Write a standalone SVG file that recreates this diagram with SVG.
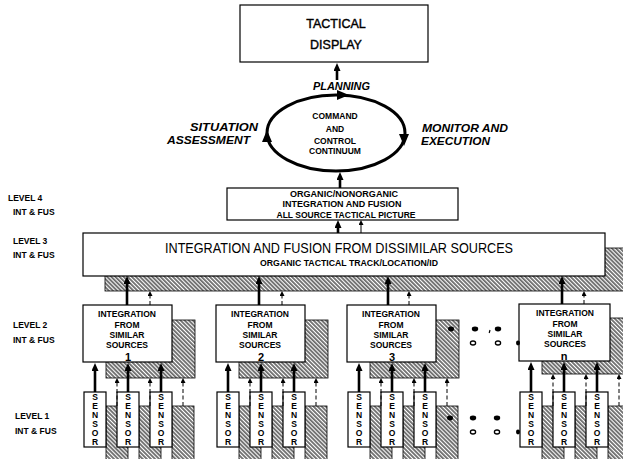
<svg xmlns="http://www.w3.org/2000/svg" width="623" height="459" viewBox="0 0 623 459">
  <defs>
    <pattern id="hatch" width="2.9" height="2.9" patternUnits="userSpaceOnUse" patternTransform="rotate(45)">
      <rect width="2.9" height="2.9" fill="#fff"/>
      <line x1="0" y1="1" x2="2.9" y2="1" stroke="#000" stroke-width="1.05"/>
    </pattern>
    <marker id="ah" markerUnits="userSpaceOnUse" markerWidth="8" markerHeight="7" viewBox="0 0 8 7" refX="3" refY="3.5" orient="auto">
      <path d="M0,0 L8,3.5 L0,7 z" fill="#000"/>
    </marker>
    <marker id="ahs" markerUnits="userSpaceOnUse" markerWidth="5" markerHeight="5" viewBox="0 0 5 5" refX="2" refY="2.5" orient="auto">
      <path d="M0,0 L5,2.5 L0,5 z" fill="#000"/>
    </marker>
  </defs>
  <style>
    text { font-family: "Liberation Sans", Arial, Helvetica, sans-serif; fill: #000; }
    .box { fill: #fff; stroke: #000; stroke-width: 1.2; }
    .shade { fill: url(#hatch); stroke: #000; stroke-width: 0.8; }
    .thick { stroke: #000; stroke-width: 2.6; fill: none; marker-end: url(#ah); }
    .thin { stroke: #000; stroke-width: 1; fill: none; stroke-dasharray: 4 2.5; marker-end: url(#ahs); }
    .thinsolid { stroke: #000; stroke-width: 1; fill: none; marker-end: url(#ahs); }
    .lvl { font-size: 8.5px; font-weight: bold; }
    .sm { font-size: 8.5px; font-weight: bold; text-anchor: middle; }
    .num { font-size: 11px; font-weight: bold; text-anchor: middle; }
    .sen { font-size: 8.5px; font-weight: bold; text-anchor: middle; }
    .it { font-size: 11px; font-weight: bold; font-style: italic; }
    .dot { fill: #000; }
    .ring { fill: none; stroke: #000; stroke-width: 1.3; }
  </style>

  <!-- level labels -->
  <g id="level-labels">
    <text class="lvl" x="8" y="201">LEVEL 4</text>
    <text class="lvl" x="13" y="215">INT &amp; FUS</text>
    <text class="lvl" x="13" y="244">LEVEL 3</text>
    <text class="lvl" x="13" y="258">INT &amp; FUS</text>
    <text class="lvl" x="13" y="328">LEVEL 2</text>
    <text class="lvl" x="13" y="343">INT &amp; FUS</text>
    <text class="lvl" x="15" y="419">LEVEL 1</text>
    <text class="lvl" x="15" y="434">INT &amp; FUS</text>
  </g>

  <!-- top display -->
  <g id="tactical-display">
    <rect class="box" x="240" y="5" width="188" height="57"/>
    <text x="336" y="28" font-size="12.5" text-anchor="middle" stroke="#000" stroke-width="0.4">TACTICAL</text>
    <text x="336" y="49" font-size="12.5" text-anchor="middle" stroke="#000" stroke-width="0.4">DISPLAY</text>
  </g>

  <!-- command and control loop -->
  <g id="c2-continuum">
    <ellipse cx="336" cy="133" rx="69" ry="38" fill="none" stroke="#000" stroke-width="3"/>
    <polygon points="337,90 349,95 337,100" fill="#000"/>
    <polygon points="262,142 267,130 272,142" fill="#000"/>
    <polygon points="399,134 404,146 409,134" fill="#000"/>
    <text class="sm" x="335" y="119" font-size="8">COMMAND</text>
    <text class="sm" x="335" y="132" font-size="8">AND</text>
    <text class="sm" x="335" y="144" font-size="8">CONTROL</text>
    <text class="sm" x="335" y="154" font-size="8">CONTINUUM</text>
  </g>

  <g id="loop-labels">
    <text class="it" x="313" y="90" textLength="57" lengthAdjust="spacingAndGlyphs">PLANNING</text>
    <text class="it" x="190" y="131" textLength="68" lengthAdjust="spacingAndGlyphs">SITUATION</text>
    <text class="it" x="167" y="144" textLength="83" lengthAdjust="spacingAndGlyphs">ASSESSMENT</text>
    <text class="it" x="422" y="132" textLength="86" lengthAdjust="spacingAndGlyphs">MONITOR AND</text>
    <text class="it" x="421" y="145" textLength="69" lengthAdjust="spacingAndGlyphs">EXECUTION</text>
  </g>

  <!-- level 4 -->
  <g id="level4">
    <rect class="box" x="227" y="188" width="231" height="32"/>
    <text class="sm" x="344" y="197" textLength="108" lengthAdjust="spacingAndGlyphs">ORGANIC/NONORGANIC</text>
    <text class="sm" x="342" y="207" textLength="119" lengthAdjust="spacingAndGlyphs">INTEGRATION AND FUSION</text>
    <text class="sm" x="346" y="218" textLength="139" lengthAdjust="spacingAndGlyphs">ALL SOURCE TACTICAL PICTURE</text>
  </g>

  <!-- level 3 -->
  <g id="level3">
    <rect class="shade" x="105" y="248" width="523" height="43"/>
    <rect class="box" x="83" y="233" width="522" height="43"/>
    <text x="339" y="253" font-size="14" text-anchor="middle" textLength="348" lengthAdjust="spacingAndGlyphs">INTEGRATION AND FUSION FROM DISSIMILAR SOURCES</text>
    <text class="sm" x="349" y="266" font-size="8" textLength="178" lengthAdjust="spacingAndGlyphs">ORGANIC TACTICAL TRACK/LOCATION/ID</text>
  </g>

  <!-- level 2 / level 1 groups -->
  <g id="group-1" transform="translate(83,0)">
    <rect class="shade" x="23" y="320" width="89" height="58"/>
    <rect class="box" x="0" y="305" width="89" height="57"/>
    <text class="sm" x="44" y="317">INTEGRATION</text>
    <text class="sm" x="44" y="328">FROM</text>
    <text class="sm" x="44" y="338">SIMILAR</text>
    <text class="sm" x="44" y="348">SOURCES</text>
    <text class="num" x="45" y="361">1</text>
    <rect class="shade" x="23" y="406" width="22" height="58"/>
    <rect class="shade" x="56" y="406" width="22" height="58"/>
    <rect class="shade" x="89" y="406" width="22" height="58"/>
    <g class="sensor"><rect class="box" x="1" y="392" width="22" height="55"/><text class="sen" x="12" y="400">S</text><text class="sen" x="12" y="409">E</text><text class="sen" x="12" y="418">N</text><text class="sen" x="12" y="427">S</text><text class="sen" x="12" y="436">O</text><text class="sen" x="12" y="445">R</text></g>
    <g class="sensor"><rect class="box" x="34" y="392" width="22" height="55"/><text class="sen" x="45" y="400">S</text><text class="sen" x="45" y="409">E</text><text class="sen" x="45" y="418">N</text><text class="sen" x="45" y="427">S</text><text class="sen" x="45" y="436">O</text><text class="sen" x="45" y="445">R</text></g>
    <g class="sensor"><rect class="box" x="67" y="392" width="22" height="55"/><text class="sen" x="78" y="400">S</text><text class="sen" x="78" y="409">E</text><text class="sen" x="78" y="418">N</text><text class="sen" x="78" y="427">S</text><text class="sen" x="78" y="436">O</text><text class="sen" x="78" y="445">R</text></g>
  </g>

  <g id="group-2" transform="translate(216,0)">
    <rect class="shade" x="23" y="320" width="89" height="58"/>
    <rect class="box" x="0" y="305" width="89" height="57"/>
    <text class="sm" x="44" y="317">INTEGRATION</text>
    <text class="sm" x="44" y="328">FROM</text>
    <text class="sm" x="44" y="338">SIMILAR</text>
    <text class="sm" x="44" y="348">SOURCES</text>
    <text class="num" x="45" y="361">2</text>
    <rect class="shade" x="23" y="406" width="22" height="58"/>
    <rect class="shade" x="56" y="406" width="22" height="58"/>
    <rect class="shade" x="89" y="406" width="22" height="58"/>
    <g class="sensor"><rect class="box" x="1" y="392" width="22" height="55"/><text class="sen" x="12" y="400">S</text><text class="sen" x="12" y="409">E</text><text class="sen" x="12" y="418">N</text><text class="sen" x="12" y="427">S</text><text class="sen" x="12" y="436">O</text><text class="sen" x="12" y="445">R</text></g>
    <g class="sensor"><rect class="box" x="34" y="392" width="22" height="55"/><text class="sen" x="45" y="400">S</text><text class="sen" x="45" y="409">E</text><text class="sen" x="45" y="418">N</text><text class="sen" x="45" y="427">S</text><text class="sen" x="45" y="436">O</text><text class="sen" x="45" y="445">R</text></g>
    <g class="sensor"><rect class="box" x="67" y="392" width="22" height="55"/><text class="sen" x="78" y="400">S</text><text class="sen" x="78" y="409">E</text><text class="sen" x="78" y="418">N</text><text class="sen" x="78" y="427">S</text><text class="sen" x="78" y="436">O</text><text class="sen" x="78" y="445">R</text></g>
  </g>

  <g id="group-3" transform="translate(347,0)">
    <rect class="shade" x="23" y="320" width="89" height="58"/>
    <rect class="box" x="0" y="305" width="89" height="57"/>
    <text class="sm" x="44" y="317">INTEGRATION</text>
    <text class="sm" x="44" y="328">FROM</text>
    <text class="sm" x="44" y="338">SIMILAR</text>
    <text class="sm" x="44" y="348">SOURCES</text>
    <text class="num" x="45" y="361">3</text>
    <rect class="shade" x="23" y="406" width="22" height="58"/>
    <rect class="shade" x="56" y="406" width="22" height="58"/>
    <rect class="shade" x="89" y="406" width="22" height="58"/>
    <g class="sensor"><rect class="box" x="1" y="392" width="22" height="55"/><text class="sen" x="12" y="400">S</text><text class="sen" x="12" y="409">E</text><text class="sen" x="12" y="418">N</text><text class="sen" x="12" y="427">S</text><text class="sen" x="12" y="436">O</text><text class="sen" x="12" y="445">R</text></g>
    <g class="sensor"><rect class="box" x="34" y="392" width="22" height="55"/><text class="sen" x="45" y="400">S</text><text class="sen" x="45" y="409">E</text><text class="sen" x="45" y="418">N</text><text class="sen" x="45" y="427">S</text><text class="sen" x="45" y="436">O</text><text class="sen" x="45" y="445">R</text></g>
    <g class="sensor"><rect class="box" x="67" y="392" width="22" height="55"/><text class="sen" x="78" y="400">S</text><text class="sen" x="78" y="409">E</text><text class="sen" x="78" y="418">N</text><text class="sen" x="78" y="427">S</text><text class="sen" x="78" y="436">O</text><text class="sen" x="78" y="445">R</text></g>
  </g>

  <g id="group-n" transform="translate(519,0)">
    <rect class="shade" x="23" y="318" width="92" height="56"/>
    <rect class="box" x="0" y="304" width="91" height="57"/>
    <text class="sm" x="46" y="316">INTEGRATION</text>
    <text class="sm" x="46" y="327">FROM</text>
    <text class="sm" x="46" y="337">SIMILAR</text>
    <text class="sm" x="46" y="347">SOURCES</text>
    <text class="num" x="45" y="359.5">n</text>
    <rect class="shade" x="23" y="406" width="22" height="58"/>
    <rect class="shade" x="56" y="406" width="22" height="58"/>
    <rect class="shade" x="89" y="406" width="22" height="58"/>
    <g class="sensor"><rect class="box" x="1" y="392" width="22" height="55"/><text class="sen" x="12" y="400">S</text><text class="sen" x="12" y="409">E</text><text class="sen" x="12" y="418">N</text><text class="sen" x="12" y="427">S</text><text class="sen" x="12" y="436">O</text><text class="sen" x="12" y="445">R</text></g>
    <g class="sensor"><rect class="box" x="34" y="392" width="22" height="55"/><text class="sen" x="45" y="400">S</text><text class="sen" x="45" y="409">E</text><text class="sen" x="45" y="418">N</text><text class="sen" x="45" y="427">S</text><text class="sen" x="45" y="436">O</text><text class="sen" x="45" y="445">R</text></g>
    <g class="sensor"><rect class="box" x="67" y="392" width="22" height="55"/><text class="sen" x="78" y="400">S</text><text class="sen" x="78" y="409">E</text><text class="sen" x="78" y="418">N</text><text class="sen" x="78" y="427">S</text><text class="sen" x="78" y="436">O</text><text class="sen" x="78" y="445">R</text></g>
  </g>

  <!-- ellipsis between group 3 and group n -->
  <g id="ellipsis">
    <ellipse class="dot" cx="451" cy="329" rx="3" ry="2.4"/>
    <ellipse class="dot" cx="475" cy="329" rx="3.2" ry="2.4"/>
    <ellipse class="dot" cx="498" cy="329" rx="3.2" ry="2.4"/>
    <path d="M490,330 l-0.8,3" stroke="#000" stroke-width="1.2"/>
    <ellipse class="ring" cx="473" cy="343" rx="2.6" ry="2"/>
    <ellipse class="ring" cx="498" cy="343" rx="2.6" ry="2"/>
    <ellipse class="dot" cx="518" cy="343" rx="2" ry="2.4"/>
    <ellipse class="dot" cx="450" cy="418" rx="3" ry="2.4"/>
    <ellipse class="dot" cx="473" cy="418" rx="3.2" ry="2.4"/>
    <ellipse class="dot" cx="497" cy="418" rx="3.2" ry="2.4"/>
    <ellipse class="ring" cx="473" cy="432" rx="2.6" ry="2"/>
    <ellipse class="ring" cx="497" cy="432" rx="2.6" ry="2"/>
    <ellipse class="dot" cx="518" cy="432" rx="2" ry="2.4"/>
  </g>

  <!-- connectors -->
  <g id="connectors">
    <line class="thick" x1="337" y1="80" x2="337" y2="68"/>
    <line class="thick" x1="340" y1="188" x2="340" y2="177"/>
    <line class="thick" x1="338" y1="233" x2="338" y2="225"/>
    <line class="thinsolid" x1="361" y1="233" x2="361" y2="223"/>

    <line class="thick" x1="127" y1="305" x2="127" y2="281"/>
    <line class="thin" x1="150" y1="305" x2="150" y2="294"/>
    <line class="thick" x1="259" y1="305" x2="259" y2="281"/>
    <line class="thin" x1="282" y1="305" x2="282" y2="294"/>
    <line class="thick" x1="388" y1="305" x2="388" y2="281"/>
    <line class="thin" x1="409" y1="305" x2="409" y2="294"/>
    <line class="thick" x1="562" y1="304" x2="562" y2="281"/>
    <line class="thin" x1="584" y1="304" x2="584" y2="294"/>

    <line class="thick" x1="95" y1="392" x2="95" y2="368"/>
    <line class="thick" x1="128" y1="392" x2="128" y2="368"/>
    <line class="thick" x1="161" y1="392" x2="161" y2="368"/>
    <line class="thin" x1="117" y1="406" x2="117" y2="381"/>
    <line class="thin" x1="150" y1="406" x2="150" y2="381"/>
    <line class="thin" x1="183" y1="406" x2="183" y2="381"/>

    <line class="thick" x1="228" y1="392" x2="228" y2="368"/>
    <line class="thick" x1="261" y1="392" x2="261" y2="368"/>
    <line class="thick" x1="294" y1="392" x2="294" y2="368"/>
    <line class="thin" x1="250" y1="406" x2="250" y2="381"/>
    <line class="thin" x1="283" y1="406" x2="283" y2="381"/>
    <line class="thin" x1="316" y1="406" x2="316" y2="381"/>

    <line class="thick" x1="359" y1="392" x2="359" y2="368"/>
    <line class="thick" x1="392" y1="392" x2="392" y2="368"/>
    <line class="thick" x1="425" y1="392" x2="425" y2="368"/>
    <line class="thin" x1="381" y1="406" x2="381" y2="381"/>
    <line class="thin" x1="414" y1="406" x2="414" y2="381"/>
    <line class="thin" x1="447" y1="406" x2="447" y2="381"/>

    <line class="thick" x1="531" y1="392" x2="531" y2="367"/>
    <line class="thick" x1="564" y1="392" x2="564" y2="367"/>
    <line class="thick" x1="597" y1="392" x2="597" y2="367"/>
    <line class="thin" x1="553" y1="406" x2="553" y2="377"/>
    <line class="thin" x1="586" y1="406" x2="586" y2="377"/>
    <line class="thin" x1="619" y1="406" x2="619" y2="377"/>
  </g>
</svg>
